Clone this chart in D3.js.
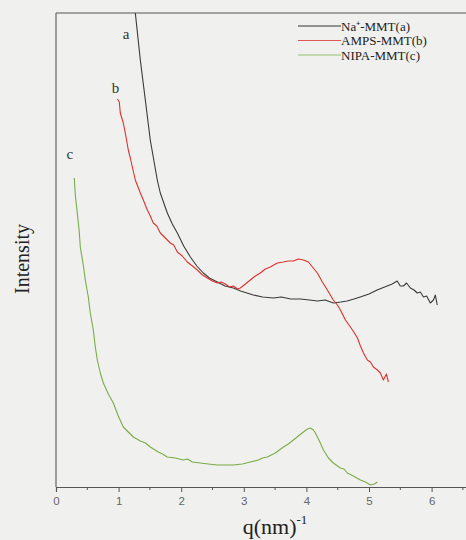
<!DOCTYPE html>
<html><head><meta charset="utf-8">
<script src="https://cdn.jsdelivr.net/npm/d3@7"></script>
<style>
body{margin:0;background:#f0f1ee;}
svg{display:block;}
</style></head>
<body>
<svg id="chart" width="466" height="540"></svg>
<script>
// q (nm^-1) values and relative intensity (arbitrary units)
const seriesNames = ["Na\u207A-MMT(a)", "AMPS-MMT(b)", "NIPA-MMT(c)"];
const curveLabels = ["a", "b", "c"];
const xTicks = [0, 1, 2, 3, 4, 5, 6];

const qA = [1.24,1.267,1.347,1.427,1.506,1.618,1.666,1.778,1.858,1.938,2.04,2.146,2.25,2.354,2.45,2.577,2.7,2.833,2.95,3.05,3.152,3.3,3.472,3.6,3.75,3.904,4.05,4.175,4.3,4.43,4.55,4.65,4.76,4.86,5.0,5.13,5.21,5.29,5.37,5.45,5.5,5.55,5.6,5.66,5.72,5.77,5.82,5.87,5.92,5.98,6.03,6.06,6.09];
const iA = [480,474,427,387,347,307,294,274,263,254,241,230,221,214,209,205,201,199,196,194,192,190,189,190,188,188,187,186,187,184,185,186,188,190,193,197,199,201,203,206,201,201,204,199,197,194,195,190,191,184,187,192,182];

const qB = [0.98,1.011,1.027,1.075,1.107,1.155,1.187,1.219,1.267,1.347,1.395,1.459,1.506,1.554,1.61,1.666,1.746,1.826,1.88,1.938,2.017,2.097,2.18,2.257,2.34,2.417,2.497,2.577,2.64,2.705,2.77,2.833,2.9,2.945,3.025,3.104,3.184,3.264,3.344,3.424,3.48,3.536,3.632,3.712,3.792,3.872,3.952,4.032,4.096,4.175,4.255,4.335,4.43,4.495,4.543,4.623,4.703,4.767,4.815,4.863,4.911,4.974,5.022,5.07,5.134,5.182,5.23,5.278,5.31];
const iB = [388,385,374,364,354,337,329,320,307,294,287,277,271,264,261,254,249,244,242,235,231,225,221,217,212,209,206,204,205,203,200,201,198,199,203,207,211,214,218,220,222,224,225,226,226,228,227,225,220,214,205,197,187,182,177,167,160,154,149,141,134,127,125,120,117,114,107,113,105];

const qC = [0.292,0.308,0.34,0.372,0.388,0.436,0.468,0.516,0.548,0.596,0.628,0.66,0.708,0.756,0.836,0.916,0.995,1.075,1.155,1.235,1.347,1.43,1.506,1.634,1.7,1.778,1.906,2.034,2.1,2.178,2.306,2.434,2.577,2.705,2.833,2.977,3.104,3.232,3.3,3.376,3.504,3.632,3.712,3.792,3.872,3.952,4.016,4.064,4.112,4.144,4.208,4.272,4.352,4.43,4.543,4.6,4.654,4.75,4.863,4.943,5.022,5.086,5.134];
const iC = [309,292,274,255,240,222,207,190,174,157,140,127,114,104,93,84,71,60,55,50,46,44,40,35,33,30,29,27,28,25,24,23,22,22,22,23,25,27,29,30,34,40,43,47,51,55,58,59,57,54,46,37,29,24,19,18,14,11,7,5,2,3,5];

const W = 466, H = 540;
const margin = {left: 56, right: 0, top: 13, bottom: 53};
const svg = d3.select("#chart");
const x = d3.scaleLinear().domain([0, 6.7]).range([margin.left, margin.left + 6.7 * 62.6]);
const y = d3.scaleLinear().domain([0, 474]).range([H - margin.bottom, margin.top]);

svg.append("defs").append("clipPath").attr("id", "clip")
  .append("rect").attr("x", margin.left).attr("y", margin.top)
  .attr("width", W - margin.left).attr("height", y(0) - margin.top);

// frame
svg.append("line").attr("x1", margin.left).attr("x2", W).attr("y1", margin.top).attr("y2", margin.top)
  .attr("stroke", "#555").attr("stroke-width", 1);
svg.append("line").attr("x1", margin.left).attr("x2", margin.left).attr("y1", margin.top).attr("y2", y(0))
  .attr("stroke", "#666").attr("stroke-width", 1.2);

// x axis
const xAxis = d3.axisBottom(x).tickValues(xTicks).tickSize(5).tickPadding(5).tickFormat(d3.format("d"));
const gx = svg.append("g").attr("transform", `translate(0,${y(0)})`).call(xAxis);
gx.select(".domain").attr("stroke", "#555").attr("stroke-width", 1.2);
gx.selectAll(".tick line").attr("stroke", "#555");
gx.selectAll("text").attr("fill", "#666").style("font-family", "Liberation Sans, Arial, sans-serif").style("font-size", "11.5px");
const minor = d3.range(0.5, 6.6, 1);
gx.selectAll(".minor").data(minor).enter().append("line")
  .attr("x1", d => x(d)).attr("x2", d => x(d)).attr("y1", 0).attr("y2", 3)
  .attr("stroke", "#555");

// curves
const colors = ["#3a3a3a", "#e0302c", "#78ac48"];
const sets = [[qA, iA], [qB, iB], [qC, iC]];
const line = d3.line().x(d => x(d[0])).y(d => y(d[1]));
const gc = svg.append("g").attr("clip-path", "url(#clip)");
sets.forEach((s, k) => {
  const pts = s[0].map((q, i) => [q, s[1][i]]);
  gc.append("path").datum(pts).attr("d", line).attr("fill", "none")
    .attr("stroke", colors[k]).attr("stroke-width", 1.1).attr("stroke-linejoin", "round");
});

// curve letters
const labelPos = [[1.12, 448], [0.95, 394], [0.22, 328]];
curveLabels.forEach((t, k) => {
  svg.append("text").attr("x", x(labelPos[k][0])).attr("y", y(labelPos[k][1]))
    .attr("text-anchor", "middle").attr("fill", "#333")
    .style("font-family", "Liberation Serif, Times New Roman, serif").style("font-size", "15px").text(t);
});

// legend
const legColors = ["#333", "#e05a55", "#8fbf6a"];
seriesNames.forEach((n, k) => {
  const yy = 26 + k * 14.5;
  svg.append("line").attr("x1", 298).attr("x2", 341).attr("y1", yy).attr("y2", yy)
    .attr("stroke", legColors[k]).attr("stroke-width", 1.2);
  svg.append("text").attr("x", 341).attr("y", yy + 4.5).attr("fill", "#222")
    .style("font-family", "Liberation Serif, Times New Roman, serif").style("font-size", "13px").text(n);
});

// axis titles
const xt = svg.append("text").attr("x", 275).attr("y", 534).attr("text-anchor", "middle").attr("fill", "#222")
  .style("font-family", "Liberation Serif, Times New Roman, serif").style("font-size", "22px");
xt.append("tspan").text("q(nm)");
xt.append("tspan").attr("dy", -10).style("font-size", "13px").text("-1");

svg.append("text").attr("transform", "translate(29,259) rotate(-90)").attr("text-anchor", "middle").attr("fill", "#222")
  .style("font-family", "Liberation Serif, Times New Roman, serif").style("font-size", "20px").text("Intensity");
</script>
</body></html>
